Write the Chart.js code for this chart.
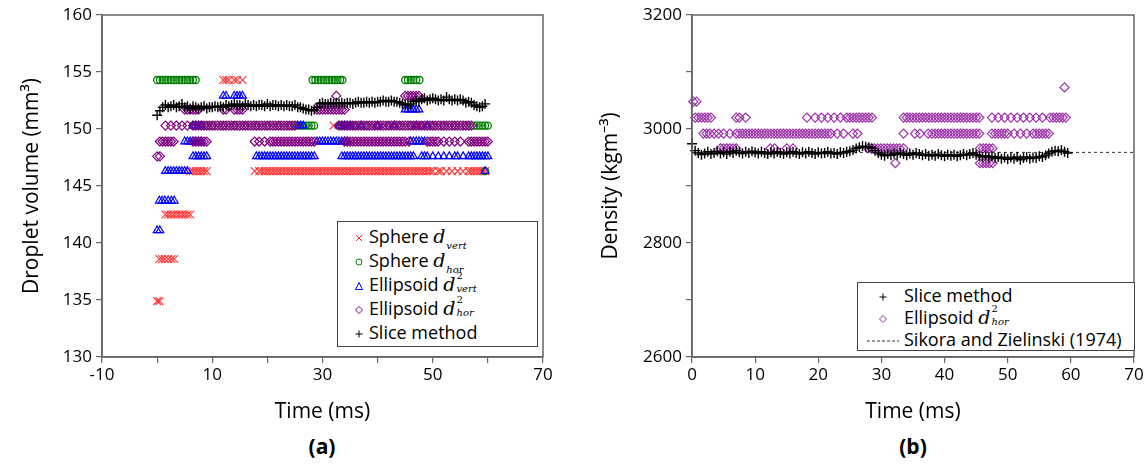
<!DOCTYPE html>
<html>
<head>
<meta charset="UTF-8">
<script src="https://cdn.jsdelivr.net/npm/chart.js"></script>
<style>
  html, body { margin: 0; padding: 0; background: #fff; overflow: hidden; }
  body { width: 1147px; height: 464px; position: relative; font-family: "Open Sans", sans-serif; }
  canvas { position: absolute; top: 0; }
  #cA { left: 0; }
  #cB { left: 575px; }
  .leg { position: absolute; background: #fff; border: 1px solid #444; font-size: 18px; color: #000; box-sizing: border-box; }
  .row { height: 24px; line-height: 24px; white-space: nowrap; }
  .row svg { vertical-align: 0px; margin-right: 5px; }
  .d { font-family: "DejaVu Serif", serif; font-style: italic; font-size: 19px; }
  .ss { display: inline-block; position: relative; width: 28px; height: 18px; vertical-align: -3px; font-family: "DejaVu Serif", serif; font-style: italic; font-size: 10px; line-height: 10px; }
  .ss .sp { position: absolute; left: 1px; top: -5px; font-style: normal; }
  .ss .sb { position: absolute; left: 1px; top: 8px; }
  .sub { display: inline-block; font-family: "DejaVu Serif", serif; font-style: italic; font-size: 10px; vertical-align: -6px; margin-left: 1px; }
  .cap { position: absolute; top: 432px; font-weight: bold; font-size: 21px; transform: translateX(-50%); }
</style>
</head>
<body>
<canvas id="cA" width="560" height="430"></canvas>
<canvas id="cB" width="580" height="430"></canvas>

<div class="leg" style="left:337px; top:221px; width:201px; height:126px; padding:2px 0 0 16px;">
  <div class="row"><svg width="10" height="10"><path d="M2 2L8 8M8 2L2 8" stroke="#ff3030" fill="none"/></svg>Sphere <span class="d">d</span><span class="sub">vert</span></div>
  <div class="row"><svg width="10" height="10"><circle cx="5" cy="5" r="3" stroke="#008000" fill="none"/></svg>Sphere <span class="d">d</span><span class="sub">hor</span></div>
  <div class="row"><svg width="10" height="10"><path d="M5 1.5L8.5 8.5L1.5 8.5Z" stroke="#0000ff" fill="none"/></svg>Ellipsoid <span class="d">d</span><span class="ss"><span class="sp">2</span><span class="sb">vert</span></span></div>
  <div class="row"><svg width="10" height="10"><path d="M5 1.5L8.5 5L5 8.5L1.5 5Z" stroke="#800080" fill="none"/></svg>Ellipsoid <span class="d">d</span><span class="ss"><span class="sp">2</span><span class="sb">hor</span></span></div>
  <div class="row"><svg width="10" height="10"><path d="M5 1.5L5 8.5M1.5 5L8.5 5" stroke="#000" fill="none"/></svg>Slice method</div>
</div>

<div class="leg" style="left:857px; top:282px; width:278px; height:69px; padding:1px 0 0 9px;">
  <div class="row" style="height:22px;line-height:22px"><svg width="32" height="10"><path d="M16 1.5L16 8.5M12.5 5L19.5 5" stroke="#000" fill="none"/></svg>Slice method</div>
  <div class="row" style="height:22px;line-height:22px"><svg width="32" height="10"><path d="M16 1.5L19.5 5L16 8.5L12.5 5Z" stroke="#9a2fa8" fill="none"/></svg>Ellipsoid <span class="d">d</span><span class="ss"><span class="sp">2</span><span class="sb">hor</span></span></div>
  <div class="row" style="height:22px;line-height:22px"><svg width="32" height="10"><line x1="0" y1="5" x2="32" y2="5" stroke="#333" stroke-dasharray="3,2"/></svg>Sikora and Zielinski (1974)</div>
</div>

<div class="cap" style="left:322px">(a)</div>
<div class="cap" style="left:913px">(b)</div>

<script>
// ---- (a) droplet volume, grouped by level: [volume, [times ms]]
const sphereVert = [
  [154.3, [12, 12.5, 13, 14, 14.5, 15.5]],
  [150.3, [32, 47, 47.5]],
  [146.3, [6, 6.5, 7, 7.5, 8, 8.5, 9, 17.7, 18.5, 19, 19.5, 20, 20.5, 21, 21.5, 22, 22.5, 23, 23.5, 24, 24.5, 25, 25.5, 26, 26.5, 27, 27.5, 28, 28.5, 29, 29.5, 30, 30.5, 31, 31.5, 32, 32.5, 33, 33.5, 34, 34.5, 35, 35.5, 36, 36.5, 37, 37.5, 38, 38.5, 39, 39.5, 40, 40.5, 41, 41.5, 42, 42.5, 43, 43.5, 44, 44.5, 45, 45.5, 46, 46.5, 47, 47.5, 48, 48.5, 49, 49.5, 50, 51, 51.5, 52.5, 53.5, 54.5, 55.5, 56.5, 57, 57.5, 58, 58.5, 59, 59.5]],
  [142.5, [1.5, 2, 2.5, 3, 3.5, 4, 4.5, 5, 5.5, 6]],
  [138.6, [0.4, 0.9, 1.4, 2, 2.6, 3.1]],
  [134.9, [0, 0.4]]
];
const sphereHor = [
  [154.3, [0, 0.5, 1, 1.5, 2, 2.5, 3, 3.5, 4, 4.5, 5, 5.5, 6, 6.5, 7, 28.2, 28.7, 29.2, 29.7, 30.2, 30.7, 31.2, 31.7, 32.2, 32.7, 33.2, 33.6, 45, 45.5, 46, 46.5, 47, 47.6]],
  [150.3, [6.5, 7, 8, 9, 10, 12, 14, 16, 18, 20, 22, 24, 25, 25.5, 26, 26.5, 27, 27.5, 28, 28.5, 33, 33.5, 34, 34.5, 35, 35.5, 36, 38, 40, 42, 44, 46, 48, 50, 52, 54, 56, 57.5, 58, 58.5, 59, 59.5, 60]],
  [146.3, [59.5]]
];
const ellipsoidVert = [
  [152.9, [12, 12.5, 14, 14.5, 15, 15.5]],
  [151.7, [45, 45.5, 46, 46.5, 47, 47.5]],
  [150.3, [6.5, 7, 7.5, 8, 25.5, 26, 26.5, 33, 33.5, 34, 34.5, 35, 37, 40, 43, 47, 49]],
  [148.9, [5, 5.5, 6, 6.5, 7, 7.5, 8, 29, 29.5, 30, 30.5, 31, 31.5, 32, 32.5, 33, 33.5, 34, 34.5, 46, 46.5, 47, 47.5, 48, 48.5]],
  [147.6, [6.5, 7, 7.5, 8, 8.5, 9, 18, 18.5, 19, 19.5, 20, 20.5, 21, 21.5, 22, 22.5, 23, 23.5, 24, 24.5, 25, 25.5, 26, 26.5, 27, 27.5, 28, 28.5, 33.5, 34, 34.5, 35, 35.5, 36, 36.5, 37, 37.5, 38, 38.5, 39, 39.5, 40, 40.5, 41, 41.5, 42, 42.5, 43, 43.5, 44, 44.5, 45, 45.5, 46, 46.5, 48, 48.5, 49, 50, 51, 52, 53, 54, 54.5, 55.5, 56.5, 57, 57.5, 58, 58.5, 59, 59.5, 60]],
  [146.3, [1.5, 2, 2.5, 3, 3.5, 4, 4.5, 5, 5.5, 59.5]],
  [143.7, [0.4, 0.9, 1.4, 2, 2.6, 3.1]],
  [141.1, [0, 0.5]]
];
const ellipsoidHor = [
  [152.9, [32.5, 45, 45.5, 46, 46.5, 47, 47.5]],
  [151.7, [5, 5.5, 6, 6.5, 7, 7.5, 12, 12.5, 14, 14.5, 15, 15.5, 29, 29.5, 30, 30.5, 31, 31.5, 32, 32.5, 33, 33.5, 34]],
  [150.3, [1.5, 2.5, 3.5, 4.5, 5.5, 6.5, 7, 7.5, 8, 8.5, 9, 9.5, 10, 10.5, 11, 11.5, 12, 12.5, 13, 13.5, 14, 14.5, 15, 15.5, 16, 16.5, 17, 17.5, 18, 18.5, 19, 19.5, 20, 20.5, 21, 21.5, 22, 22.5, 23, 23.5, 24, 24.5, 25, 33, 33.5, 34, 34.5, 35, 35.5, 36, 36.5, 37, 37.5, 38, 38.5, 39, 39.5, 40, 40.5, 41, 41.5, 42, 42.5, 43, 43.5, 44, 44.5, 45, 45.5, 46, 46.5, 47, 47.5, 48, 48.5, 49, 49.5, 50, 50.5, 51, 51.5, 52, 52.5, 53, 53.5, 54, 54.5, 55, 55.5, 56, 56.5, 57]],
  [148.9, [0.5, 1, 1.5, 2, 2.5, 3, 6.5, 7, 7.5, 8, 8.5, 9, 17.7, 18.5, 19.5, 20.5, 21, 21.5, 22, 22.5, 23, 23.5, 24, 24.5, 25, 25.5, 26, 26.5, 27, 27.5, 28, 28.5, 34, 34.5, 35, 35.5, 36, 36.5, 37, 37.5, 38, 38.5, 39, 39.5, 40, 40.5, 41, 41.5, 42, 42.5, 43, 43.5, 44, 44.5, 45, 45.7, 49, 49.5, 50, 50.5, 51, 52, 53, 54, 55, 56.5, 57, 57.5, 58, 58.5, 59, 59.5, 60]],
  [147.6, [0, 0.5]]
];
const sliceVolume = [
  [0, 151.2], [0.5, 151.6], [1, 151.9], [1.5, 152.1], [2, 151.9], [2.5, 152.0], [3, 152.1], [3.5, 151.9], [4, 152.0], [4.5, 152.2],
  [5, 151.9], [5.5, 152.0], [6, 151.8], [6.5, 152.0], [7, 151.9], [7.5, 151.8], [8, 151.9], [8.5, 152.0], [9, 151.8], [9.5, 151.9],
  [10, 151.9], [10.5, 152.0], [11, 151.9], [11.5, 152.0], [12, 151.9], [12.5, 152.1], [13, 152.0], [13.5, 152.1], [14, 152.2], [14.5, 152.1],
  [15, 152.1], [15.5, 152.0], [16, 152.2], [16.5, 152.1], [17, 152.0], [17.5, 152.1], [18, 152.0], [18.5, 152.1], [19, 152.1], [19.5, 152.0],
  [20, 152.2], [20.5, 152.0], [21, 152.1], [21.5, 152.1], [22, 152.0], [22.5, 152.1], [23, 152.0], [23.5, 152.1], [24, 152.0], [24.5, 152.0],
  [25, 152.1], [25.5, 151.9], [26, 151.9], [26.5, 151.8], [27, 151.7], [27.5, 151.7], [28, 151.6], [28.5, 151.7], [29, 151.9], [29.5, 152.2],
  [30, 152.3], [30.5, 152.2], [31, 152.2], [31.5, 152.3], [32, 152.2], [32.5, 152.3], [33, 152.2], [33.5, 152.3], [34, 152.2], [34.5, 152.3],
  [35, 152.3], [35.5, 152.2], [36, 152.3], [36.5, 152.4], [37, 152.3], [37.5, 152.3], [38, 152.4], [38.5, 152.3], [39, 152.4], [39.5, 152.3],
  [40, 152.4], [40.5, 152.4], [41, 152.5], [41.5, 152.4], [42, 152.4], [42.5, 152.5], [43, 152.4], [43.5, 152.4], [44, 152.3], [44.5, 152.2],
  [45, 152.1], [45.5, 152.1], [46, 152.2], [46.5, 152.4], [47, 152.5], [47.5, 152.4], [48, 152.6], [48.5, 152.7], [49, 152.5], [49.5, 152.6],
  [50, 152.7], [50.5, 152.6], [51, 152.5], [51.5, 152.6], [52, 152.5], [52.5, 152.8], [53, 152.6], [53.5, 152.5], [54, 152.6], [54.5, 152.5],
  [55, 152.6], [55.5, 152.5], [56, 152.3], [56.5, 152.4], [57, 152.3], [57.5, 152.1], [58, 152.0], [58.5, 151.9], [59, 152.0], [59.5, 152.2]
];

// ---- (b) density
const densityEllipsoid = [
  [3073, [59]],
  [3048, [0.2, 0.7]],
  [3020, [0.5, 1, 1.5, 2, 2.5, 3, 7, 7.5, 8.5, 18.2, 19.5, 20.5, 21.5, 22.5, 23.5, 24.5, 25, 25.5, 26, 26.5, 27, 27.5, 28, 28.5, 33.5, 34, 34.5, 35, 35.5, 36, 36.5, 37, 37.5, 38, 38.5, 39, 39.5, 40, 40.5, 41, 41.5, 42, 42.5, 43, 43.5, 44, 44.5, 45, 45.5, 47.5, 48.5, 49.5, 50.5, 51.5, 52.5, 53.5, 54.5, 55.5, 56.7, 57.2, 57.7, 58.2, 58.7, 59.2]],
  [2992, [1.8, 2.3, 2.8, 3.5, 4.2, 5, 6, 7, 7.5, 8, 8.5, 9, 9.5, 10, 10.5, 11, 11.5, 12, 12.5, 13, 13.5, 14, 14.5, 15, 15.5, 16, 16.5, 17, 17.5, 18, 18.5, 19, 19.5, 20, 20.5, 21, 21.5, 22, 23, 24, 25.5, 26.2, 33.5, 35.3, 36.1, 37.4, 38, 38.5, 39, 39.5, 40, 40.5, 41, 41.5, 42, 42.5, 43, 43.5, 44, 44.5, 45, 45.5, 47.5, 48, 48.5, 49, 49.5, 50, 51, 52, 53, 54, 54.5, 55, 55.5, 56, 56.5]],
  [2966, [4.5, 5, 5.5, 6, 6.5, 7, 12.4, 13.1, 15, 16, 27.9, 28.4, 28.9, 29.4, 29.9, 30.4, 30.9, 31.4, 31.9, 32.4, 32.9, 33.5, 45.6, 46.1, 46.6, 47.1, 47.6]],
  [2940, [32.2, 45.6, 46.1, 46.6, 47.1, 47.6]]
];
const sliceDensity = [
  [0, 2974], [0.5, 2962], [1, 2958], [1.5, 2955], [2, 2957], [2.5, 2960], [3, 2956], [3.5, 2958], [4, 2961], [4.5, 2957],
  [5, 2959], [5.5, 2956], [6, 2960], [6.5, 2958], [7, 2962], [7.5, 2959], [8, 2957], [8.5, 2960], [9, 2958], [9.5, 2961],
  [10, 2959], [10.5, 2957], [11, 2960], [11.5, 2958], [12, 2956], [12.5, 2959], [13, 2957], [13.5, 2960], [14, 2958], [14.5, 2956],
  [15, 2959], [15.5, 2957], [16, 2960], [16.5, 2958], [17, 2956], [17.5, 2959], [18, 2957], [18.5, 2960], [19, 2958], [19.5, 2956],
  [20, 2959], [20.5, 2957], [21, 2958], [21.5, 2960], [22, 2957], [22.5, 2958], [23, 2956], [23.5, 2959], [24, 2958], [24.5, 2960],
  [25, 2961], [25.5, 2963], [26, 2966], [26.5, 2968], [27, 2970], [27.5, 2969], [28, 2968], [28.5, 2966], [29, 2962], [29.5, 2958],
  [30, 2955], [30.5, 2953], [31, 2956], [31.5, 2954], [32, 2957], [32.5, 2955], [33, 2958], [33.5, 2956], [34, 2954], [34.5, 2957],
  [35, 2955], [35.5, 2958], [36, 2956], [36.5, 2954], [37, 2956], [37.5, 2953], [38, 2955], [38.5, 2953], [39, 2956], [39.5, 2954],
  [40, 2952], [40.5, 2955], [41, 2953], [41.5, 2955], [42, 2952], [42.5, 2954], [43, 2956], [43.5, 2954], [44, 2956], [44.5, 2958],
  [45, 2955], [45.5, 2953], [46, 2951], [46.5, 2953], [47, 2950], [47.5, 2952], [48, 2949], [48.5, 2951], [49, 2948], [49.5, 2950],
  [50, 2947], [50.5, 2950], [51, 2948], [51.5, 2951], [52, 2946], [52.5, 2949], [53, 2951], [53.5, 2948], [54, 2950], [54.5, 2949],
  [55, 2952], [55.5, 2951], [56, 2954], [56.5, 2957], [57, 2960], [57.5, 2962], [58, 2961], [58.5, 2963], [59, 2960], [59.5, 2958]
];
const sikoraDensity = 2959;
const sikoraRange = [0, 70];

function levelPoints(groups) {
  const pts = [];
  groups.forEach(([y, ts]) => ts.forEach(t => pts.push({ x: t, y: y })));
  return pts;
}
function pairPoints(arr) {
  return arr.map(([x, y]) => ({ x, y }));
}

const frame = {
  id: 'frame',
  afterDraw(chart) {
    const a = chart.chartArea, ctx = chart.ctx;
    ctx.save();
    ctx.strokeStyle = '#666';
    ctx.lineWidth = 1.5;
    ctx.strokeRect(a.left, a.top, a.right - a.left, a.bottom - a.top);
    ctx.restore();
  }
};

const tickFont = { family: 'Open Sans', size: 17 };
const titleFont = { family: 'Open Sans', size: 21 };
const axisGrid = { drawOnChartArea: false, drawTicks: true, tickLength: 6, color: '#666', lineWidth: 1.2 };
const axisBorder = { display: true, color: '#666', width: 1.5 };

function sc(data, style, color, radius, order, width) {
  return {
    data, pointStyle: style, pointRadius: radius, pointHoverRadius: radius,
    borderColor: color, backgroundColor: 'rgba(0,0,0,0)', pointBorderWidth: width || 1.2,
    showLine: false, order, clip: false
  };
}

new Chart(document.getElementById('cA'), {
  type: 'scatter',
  data: {
    datasets: [
      sc(pairPoints(sliceVolume), 'cross', '#000', 5, 0, 1.4),
      sc(levelPoints(ellipsoidHor), 'rectRot', '#800080', 4.5, 1),
      sc(levelPoints(ellipsoidVert), 'triangle', '#0000ff', 4.5, 2),
      sc(levelPoints(sphereHor), 'circle', '#008000', 3.5, 3, 1.3),
      sc(levelPoints(sphereVert), 'crossRot', 'rgba(255,30,30,0.85)', 5.5, 4)
    ]
  },
  options: {
    responsive: false, animation: false,
    layout: { padding: { top: 15, right: 17, left: 0, bottom: 0 } },
    plugins: { legend: { display: false }, tooltip: { enabled: false } },
    scales: {
      x: {
        type: 'linear', min: -10, max: 70,
        afterFit(s) { s.height = 73; },
        ticks: { stepSize: 10, autoSkip: false, maxRotation: 0, color: '#000', font: tickFont, padding: 2,
          callback: v => ((v + 10) % 20 === 0 ? String(v) : '') },
        grid: axisGrid, border: axisBorder,
        title: { display: true, text: 'Time (ms)', color: '#000', font: titleFont, padding: { bottom: 5 } }
      },
      y: {
        min: 130, max: 160,
        afterFit(s) { s.width = 102; },
        ticks: { stepSize: 5, color: '#000', font: tickFont, padding: 4 },
        grid: axisGrid, border: axisBorder,
        title: { display: true, text: 'Droplet volume (mm³)', color: '#000', font: titleFont, padding: { top: 19 } }
      }
    }
  },
  plugins: [frame]
});

new Chart(document.getElementById('cB'), {
  type: 'scatter',
  data: {
    datasets: [
      sc(pairPoints(sliceDensity), 'cross', '#000', 5, 0, 1.4),
      sc(levelPoints(densityEllipsoid), 'rectRot', '#9a2fa8', 4.5, 1),
      {
        data: sikoraRange.map(t => ({ x: t, y: sikoraDensity })),
        type: 'line', borderColor: '#333', borderWidth: 1, borderDash: [3, 3],
        pointRadius: 0, showLine: true, order: 2
      }
    ]
  },
  options: {
    responsive: false, animation: false,
    layout: { padding: { top: 15, right: 21, left: 0, bottom: 0 } },
    plugins: { legend: { display: false }, tooltip: { enabled: false } },
    scales: {
      x: {
        type: 'linear', min: 0, max: 70,
        afterFit(s) { s.height = 73; },
        ticks: { stepSize: 10, autoSkip: false, maxRotation: 0, color: '#000', font: tickFont, padding: 2 },
        grid: axisGrid, border: axisBorder,
        title: { display: true, text: 'Time (ms)', color: '#000', font: titleFont, padding: { bottom: 5 } }
      },
      y: {
        min: 2600, max: 3200,
        afterFit(s) { s.width = 117; },
        ticks: { stepSize: 100, color: '#000', font: tickFont, padding: 4,
          callback: v => (v % 200 === 0 ? String(v) : '') },
        grid: axisGrid, border: axisBorder,
        title: { display: true, text: 'Density (kgm⁻³)', color: '#000', font: titleFont, padding: { top: 23 } }
      }
    }
  },
  plugins: [frame]
});
</script>
</body>
</html>
